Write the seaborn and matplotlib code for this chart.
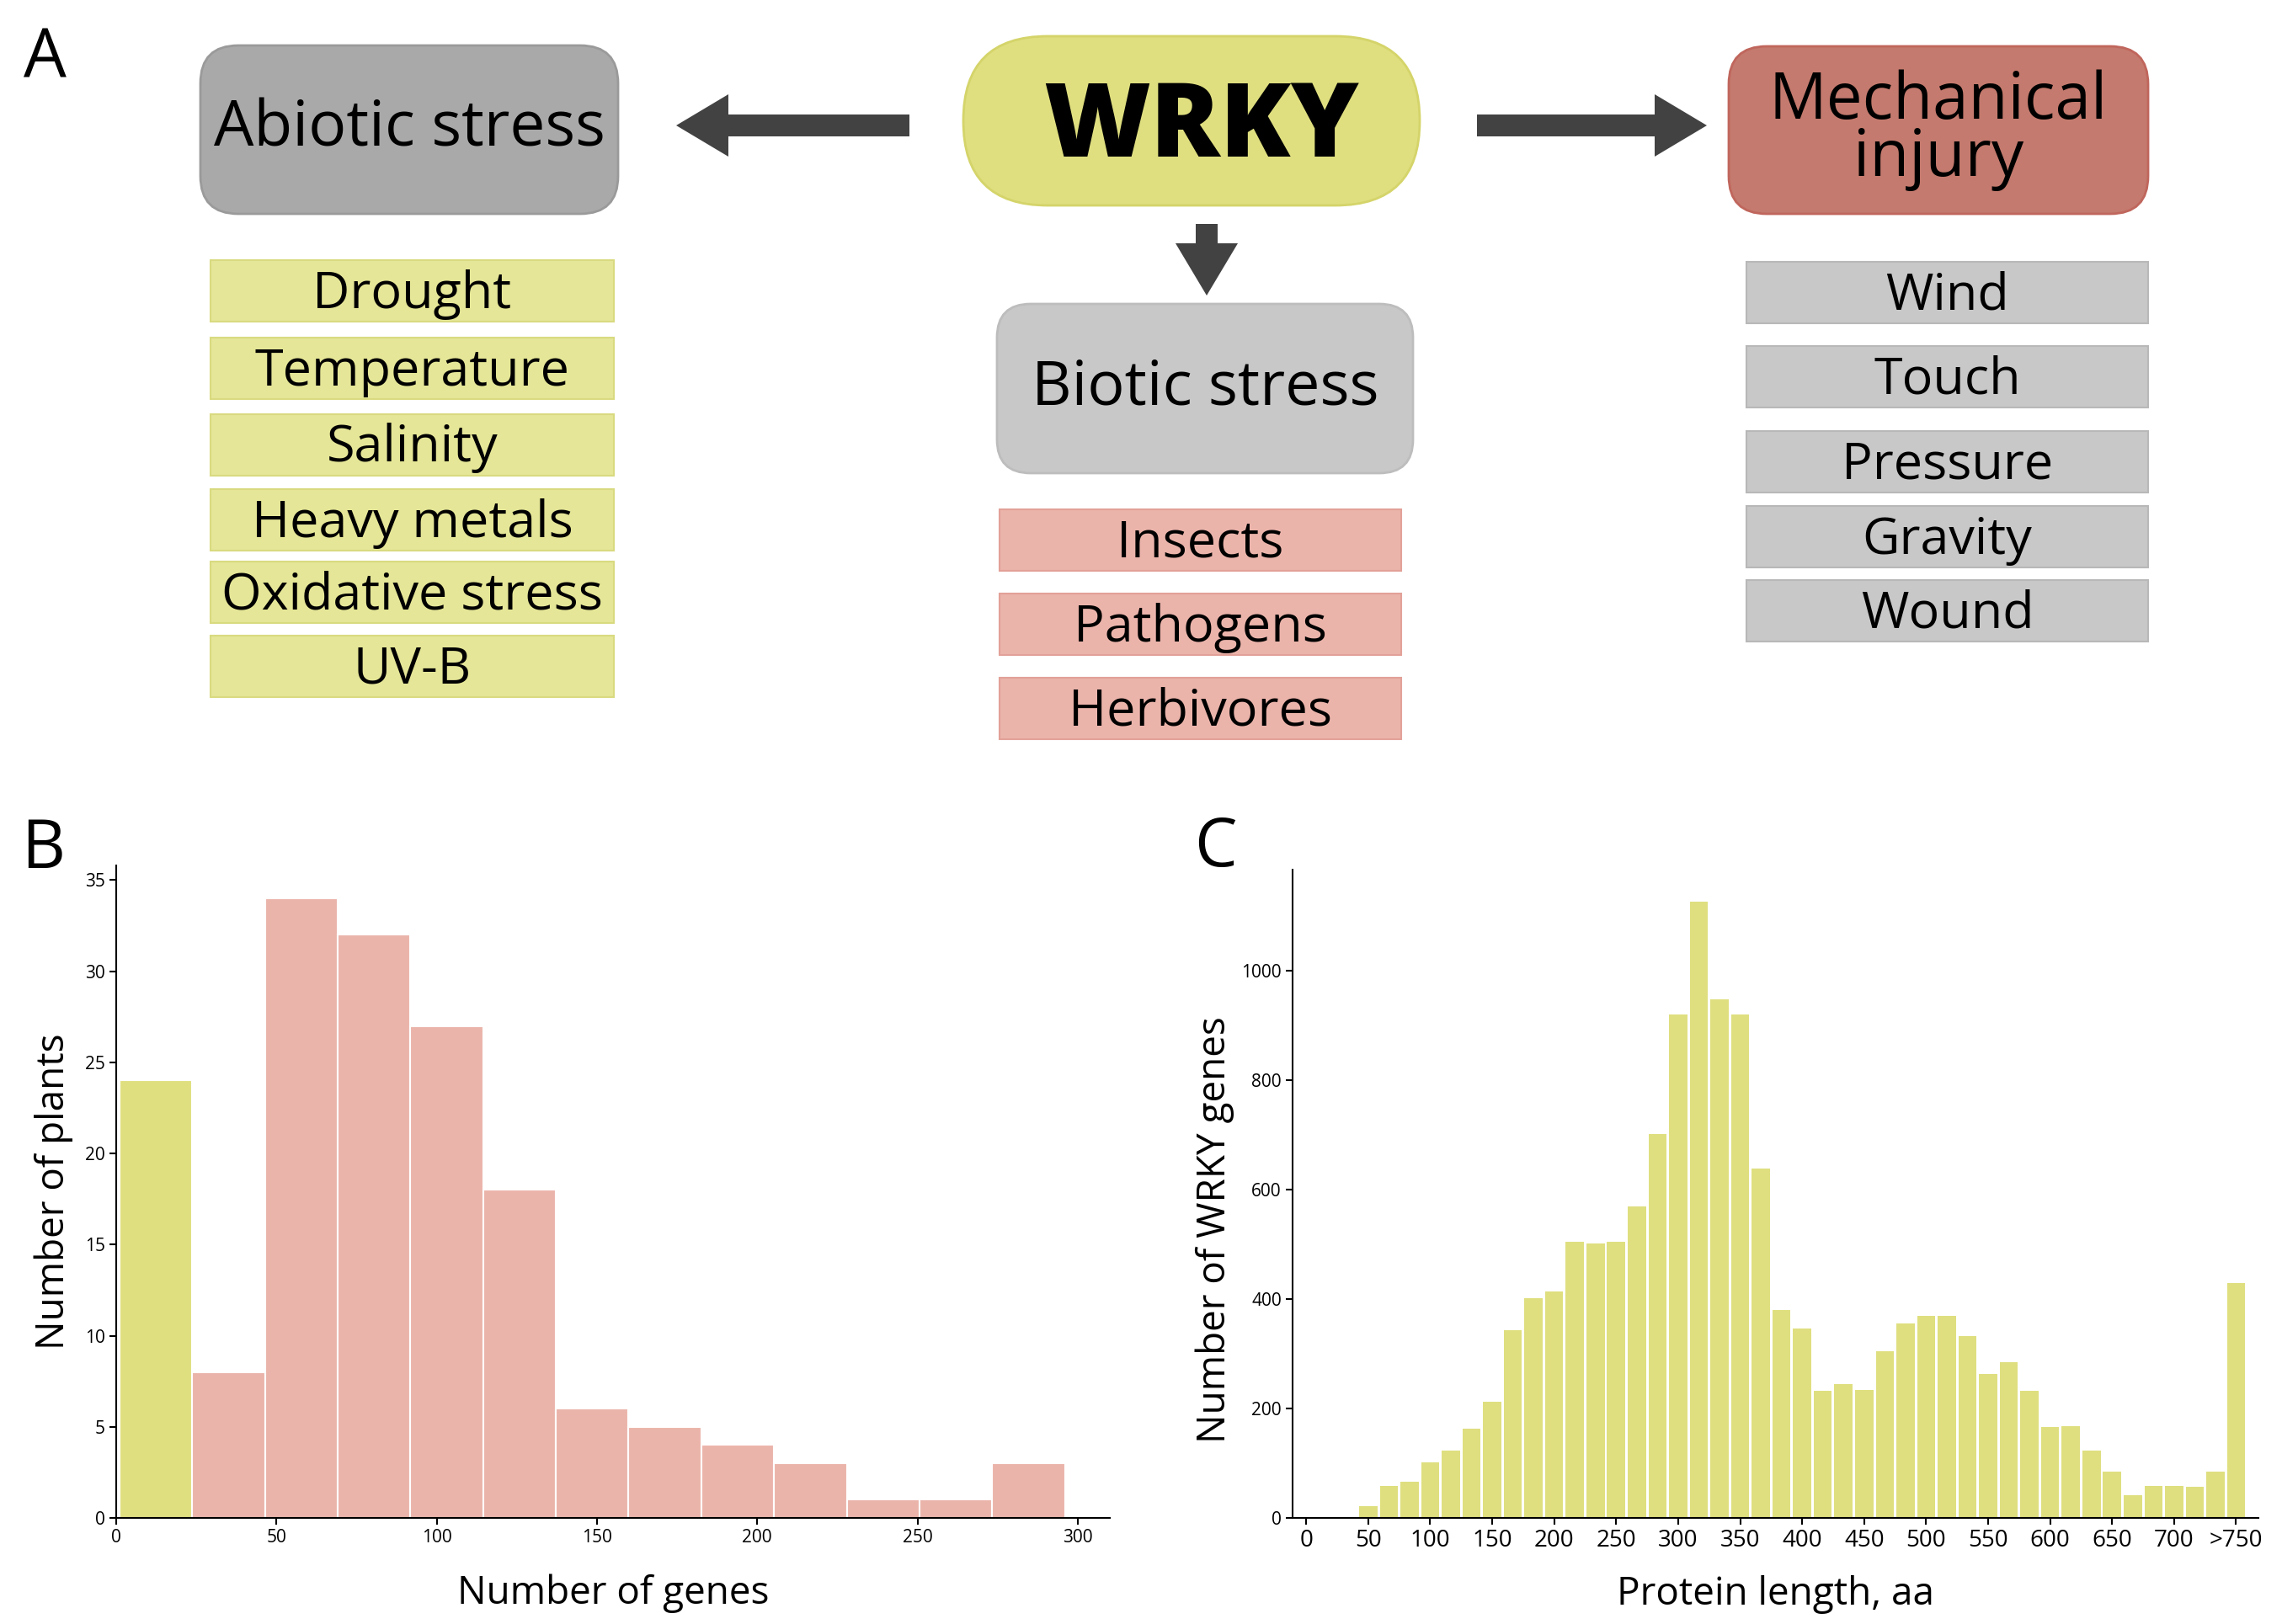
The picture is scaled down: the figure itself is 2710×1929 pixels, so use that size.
import numpy as np
import pandas as pd
import matplotlib
matplotlib.use("Agg")
import matplotlib.pyplot as plt
import seaborn as sns
from matplotlib.patches import FancyBboxPatch, FancyArrow

# ---- data ----
# panel A: stress categories
abiotic_items = ["Drought", "Temperature", "Salinity", "Heavy metals", "Oxidative stress", "UV-B"]
biotic_items = ["Insects", "Pathogens", "Herbivores"]
mechanical_items = ["Wind", "Touch", "Pressure", "Gravity", "Wound"]

# panel B: number of WRKY genes per plant (13 equal bins between min and max)
gene_min, gene_max = 1, 296
plants_per_bin = [24, 8, 34, 32, 27, 18, 6, 5, 4, 3, 1, 1, 3]

# panel C: protein length distribution, bins of 50/3 aa starting at 0 (last bin = >750)
len_bin_width = 50 / 3
genes_per_len_bin = [0, 0, 2, 21, 59, 66, 102, 123, 163, 213, 343, 402, 414, 505, 501,
                     505, 569, 701, 920, 1126, 948, 920, 639, 380, 346, 233, 244, 234,
                     305, 355, 370, 369, 332, 263, 284, 233, 166, 168, 123, 84, 42, 58,
                     59, 57, 84, 429]
len_ticks = [0, 50, 100, 150, 200, 250, 300, 350, 400, 450, 500, 550, 600, 650, 700, 750]
len_tick_labels = ["0", "50", "100", "150", "200", "250", "300", "350", "400", "450",
                   "500", "550", "600", "650", "700", ">750"]

# colours
YELLOW = "#dfdf80"
YELLOW_LIGHT = "#e5e697"
PINK = "#ebb4ab"
GREY_DARK = "#a9a9a9"
GREY_LIGHT = "#c8c8c8"
RED = "#c47a6e"
ARROW = "#424242"

sns.set_style("ticks")
plt.rcParams["font.family"] = ["Open Sans", "DejaVu Sans"]
for key in ["text.color", "axes.labelcolor", "xtick.color", "ytick.color", "axes.edgecolor"]:
    plt.rcParams[key] = "black"

W, H = 2710, 1929
fig = plt.figure(figsize=(W / 100, H / 100), dpi=100)

# ---- panel A: diagram drawn in pixel coordinates ----
axA = fig.add_axes([0, 0, 1, 1], zorder=0)
axA.set_xlim(0, W)
axA.set_ylim(H, 0)
axA.axis("off")


def box(x0, y0, x1, y1, fc, ec, r, text, size, weight="normal", lw=2, dx=0, dy=0):
    p = FancyBboxPatch((x0, y0), x1 - x0, y1 - y0,
                       boxstyle=f"round,pad=0,rounding_size={r}",
                       fc=fc, ec=ec, lw=lw)
    axA.add_patch(p)
    axA.text((x0 + x1) / 2 + dx, (y0 + y1) / 2 + dy, text, ha="center", va="center",
             fontsize=size, fontweight=weight, linespacing=0.85)


# main boxes
box(238, 54, 734, 254, GREY_DARK, "#9a9a9a", 45, "Abiotic stress", 54)
box(1144, 43, 1686, 244, YELLOW, "#d4d46a", 100, "WRKY", 88, weight="heavy", dx=12, dy=10)
box(2053, 55, 2551, 254, RED, "#c0665c", 45, "Mechanical\ninjury", 55)
box(1184, 361, 1678, 562, GREY_LIGHT, "#bdbdbd", 40, "Biotic stress", 53)

# arrows
for x, y, dx, dy in [(1080, 149, -277, 0), (1754, 149, 273, 0), (1433, 266, 0, 85)]:
    axA.add_patch(FancyArrow(x, y, dx, dy, width=26, head_width=74, head_length=62,
                             length_includes_head=True, color=ARROW, lw=0))

# item lists
abiotic_tops = [309, 401, 492, 581, 667, 755]
biotic_tops = [605, 705, 805]
mech_tops = [311, 411, 512, 601, 689]
item_h = 73
for items, tops, x0, x1, fc, ec in [
        (abiotic_items, abiotic_tops, 250, 729, YELLOW_LIGHT, "#d9da80"),
        (biotic_items, biotic_tops, 1187, 1664, PINK, "#e2a198"),
        (mechanical_items, mech_tops, 2074, 2551, GREY_LIGHT, "#b8b8b8")]:
    for label, top in zip(items, tops):
        box(x0, top, x1, top + item_h, fc, ec, 0, label, 44, lw=1.5, dy=4)

# panel letters
for letter, x, y in [("A", 28, 70), ("B", 25, 1010), ("C", 1418, 1008)]:
    fig.text(x / W, 1 - y / H, letter, fontsize=58, ha="left", va="center")

# ---- panel B ----
axB = fig.add_axes([138 / W, 1 - 1803 / H, (1318 - 138) / W, (1803 - 1028) / H], zorder=2)
gene_edges = np.linspace(gene_min, gene_max, len(plants_per_bin) + 1)
genes_df = pd.DataFrame({"genes": (gene_edges[:-1] + gene_edges[1:]) / 2,
                         "plants": plants_per_bin})
sns.histplot(data=genes_df, x="genes", weights="plants", bins=list(gene_edges),
             color=PINK, alpha=1, edgecolor="white", linewidth=1.5, ax=axB)
axB.patches[0].set_facecolor(YELLOW)
axB.set_xlim(0, 310)
axB.set_ylim(0, 35.8)
axB.set_xticks(range(0, 301, 50))
axB.set_yticks(range(0, 36, 5))
axB.set_xlabel("Number of genes", fontsize=33, labelpad=23)
axB.set_ylabel("Number of plants", fontsize=33, labelpad=10)

# ---- panel C ----
axC = fig.add_axes([1535 / W, 1 - 1803 / H, (2682 - 1535) / W, (1803 - 1033) / H], zorder=2)
len_centers = len_bin_width * np.arange(len(genes_per_len_bin))
len_edges = np.append(len_centers - len_bin_width / 2, len_centers[-1] + len_bin_width / 2)
len_df = pd.DataFrame({"length": len_centers, "genes": genes_per_len_bin})
sns.histplot(data=len_df, x="length", weights="genes", bins=list(len_edges),
             color=YELLOW, alpha=1, edgecolor="none", shrink=0.88, ax=axC)
axC.set_xlim(-11, 768)
axC.set_ylim(0, 1185)
axC.set_xticks(len_ticks)
axC.set_xticklabels(len_tick_labels)
axC.set_yticks(range(0, 1001, 200))
axC.set_xlabel("Protein length, aa", fontsize=33, labelpad=19)
axC.set_ylabel("Number of WRKY genes", fontsize=33)
axC.yaxis.set_label_coords(-0.06, 0.445)

for ax in (axB, axC):
    sns.despine(ax=ax)
    ax.spines["left"].set_linewidth(1.5)
    ax.spines["bottom"].set_linewidth(1.5)
    ax.tick_params(length=6, width=1.5, labelsize=15)
axC.tick_params(axis="x", labelsize=20)

fig.savefig("out.png", dpi=100)
